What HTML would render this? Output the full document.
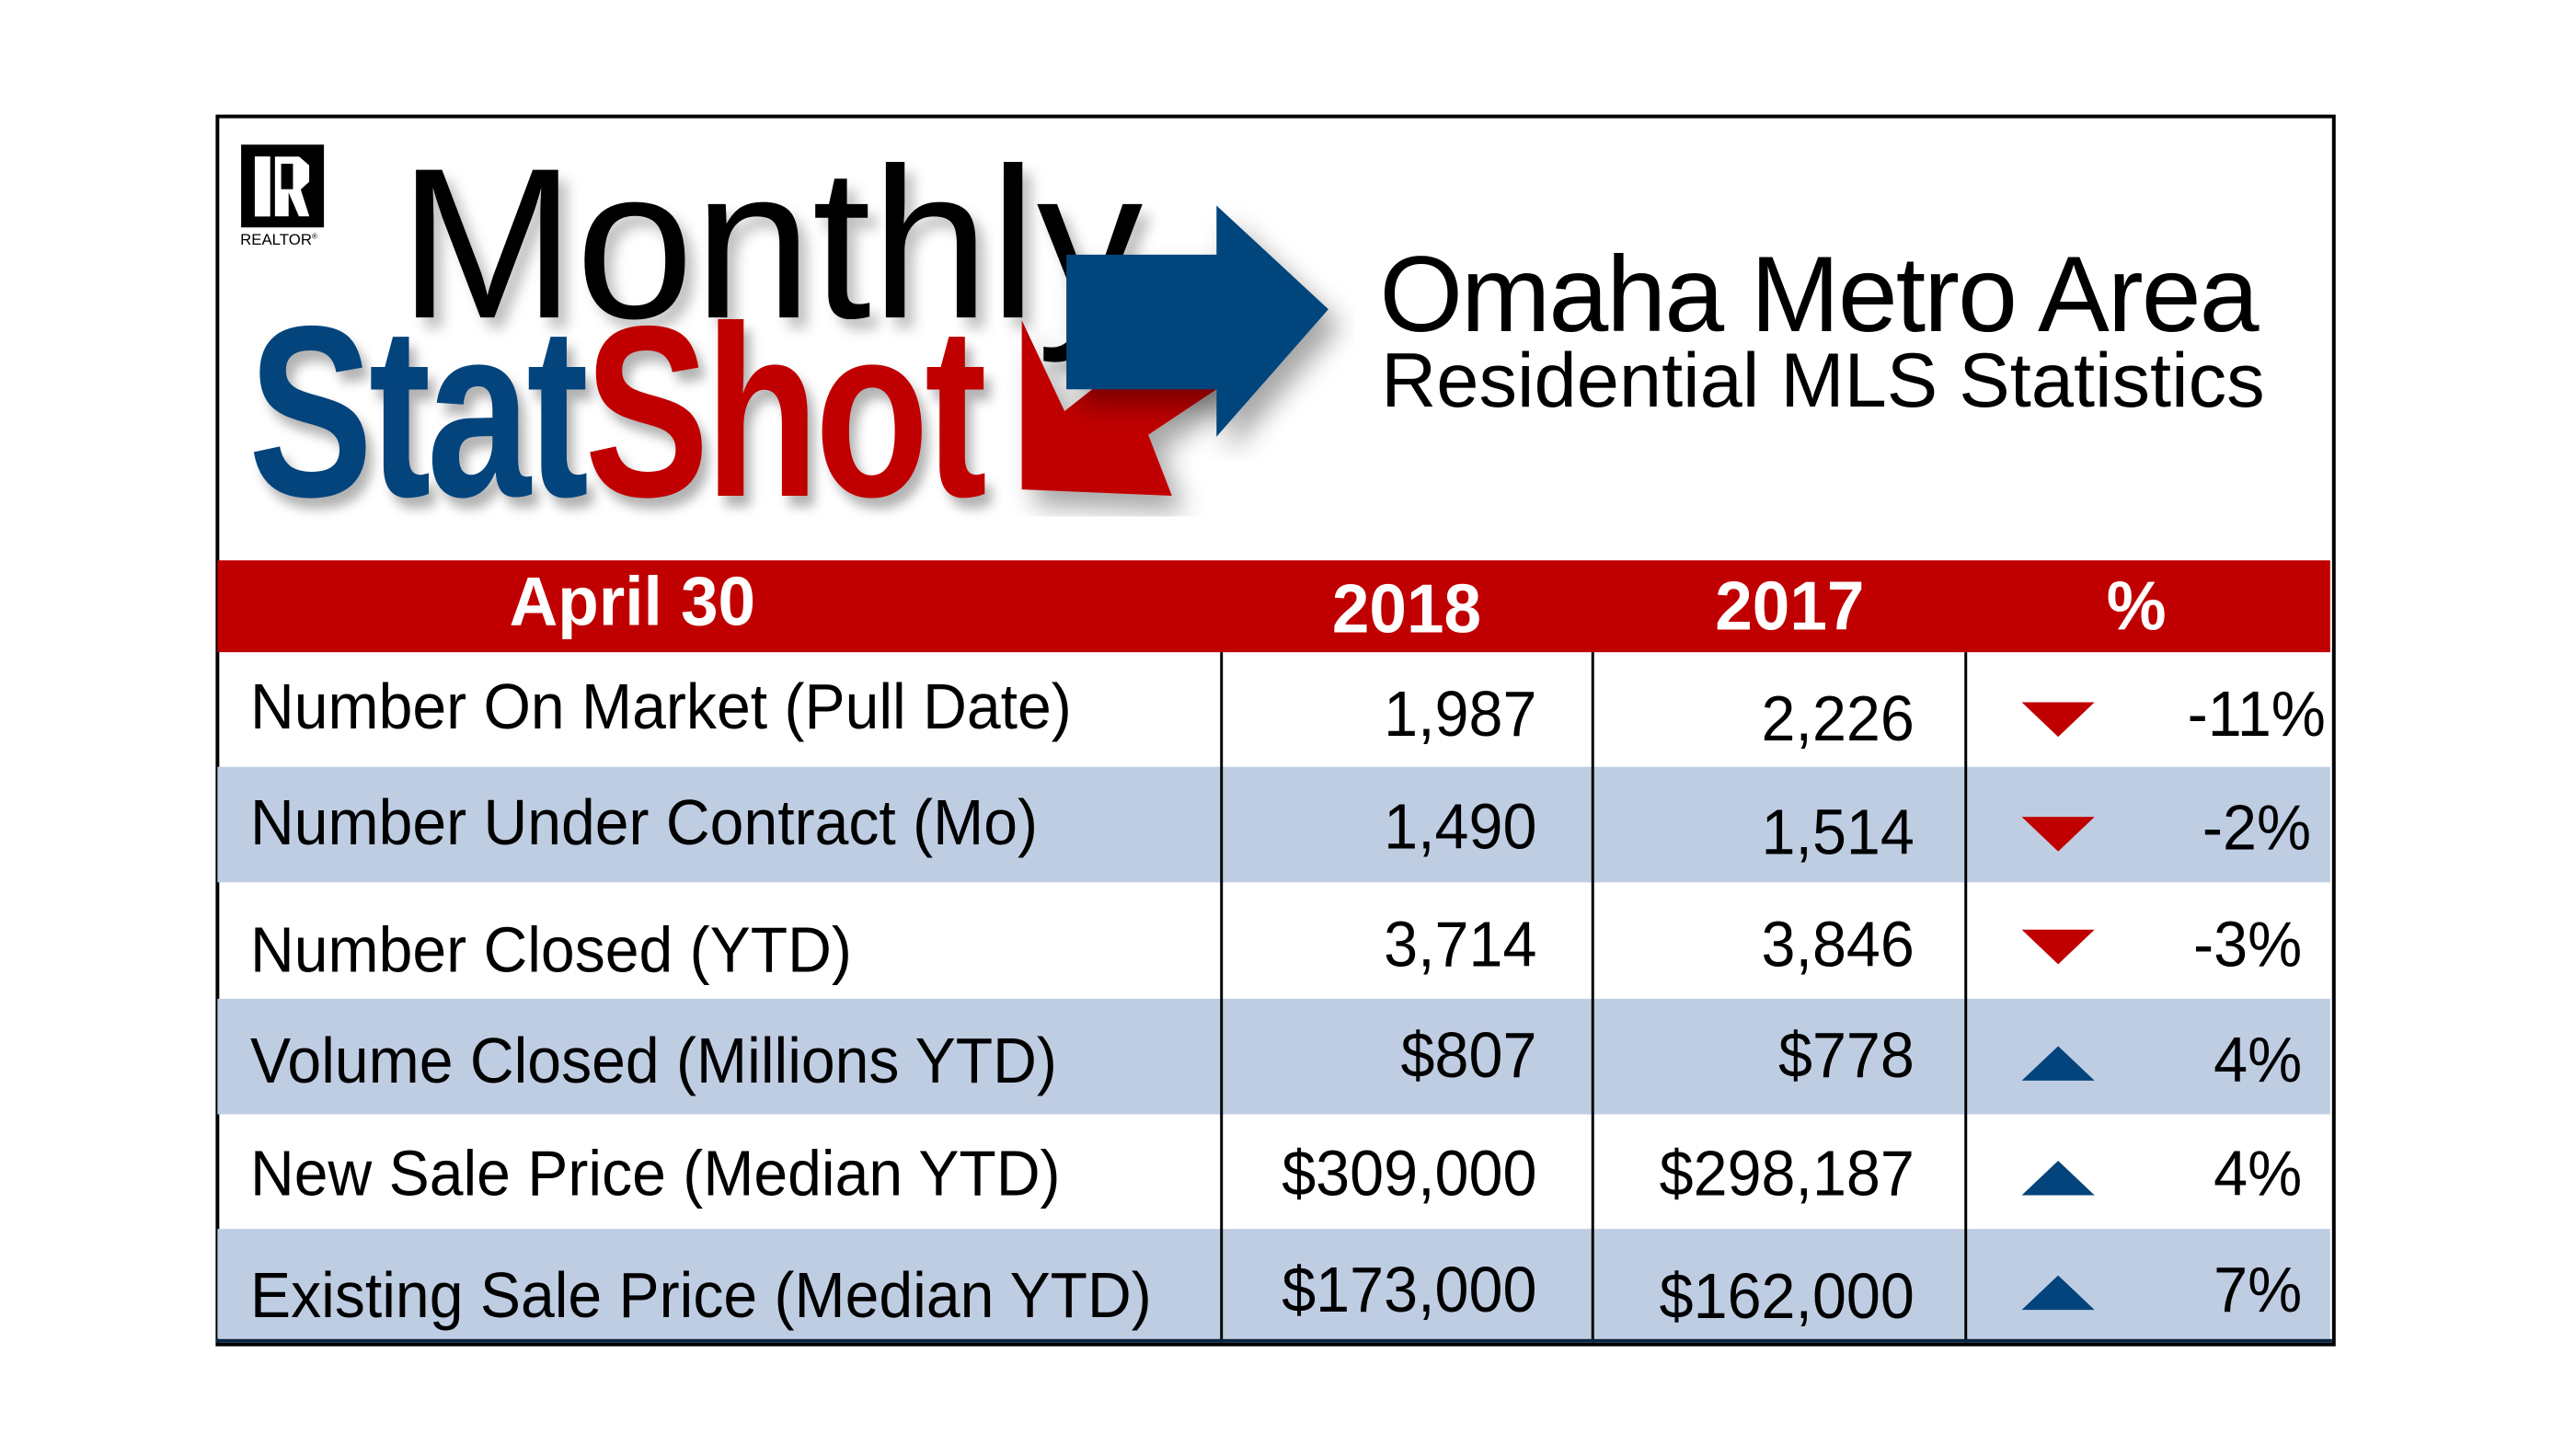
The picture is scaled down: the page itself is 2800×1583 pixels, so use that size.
<!DOCTYPE html>
<html><head><meta charset="utf-8"><style>
body{margin:0;width:2800px;height:1583px;background:#fff;position:relative;overflow:hidden;font-family:"Liberation Sans",sans-serif}
#w{position:absolute;left:0;top:0;width:2800px;height:1583px;transform:scale(0.989);transform-origin:0 0}
.a{position:absolute;white-space:nowrap}
.row{position:absolute;left:239px;width:2322px;height:127px}
.lbl{position:absolute;left:275px;font-size:70px;transform:scaleX(0.955);transform-origin:left center;color:#000;white-space:nowrap}
.num{position:absolute;font-size:70px;transform:scaleX(0.96);color:#000;text-align:right}
.h{position:absolute;color:#fff;font-weight:bold;font-size:76px;transform:scaleX(0.97);text-align:center}
</style></head><body><div id="w">
<div class="a" style="left:237px;top:126px;width:2322px;height:1346px;border:4px solid #000"></div>
<div class="a" style="left:265px;top:159px;width:91px;height:91px;background:#000"></div>
<div class="a" style="left:280px;top:172px;width:17px;height:66px;background:#fff"></div>
<div class="a" style="left:302px;top:172px;width:38px;height:66px;background:#fff;clip-path:polygon(0 0,70% 0,100% 15%,100% 42%,75% 55%,100% 100%,70% 100%,40% 60%,40% 100%,0 100%)"></div>
<div class="a" style="left:309px;top:180px;width:13px;height:28px;background:#000"></div>
<div class="a" style="left:264px;top:254px;font-size:17px">REALTOR<sup style="font-size:8px">®</sup></div>
<div class="a" style="left:438px;top:150px;font-size:236px;line-height:236px;text-shadow:10px 12px 14px rgba(0,0,0,.25);transform:scaleX(0.99);transform-origin:left">Monthly</div>
<svg class="a" style="left:0;top:0" width="2800" height="700">
<defs><filter id="s"><feDropShadow dx="14" dy="18" stdDeviation="14" flood-opacity="0.35"/></filter></defs>
<polygon filter="url(#s)" points="1123,352 1170,452 1337,320 1337,428 1262,478 1288,545 1123,538" fill="#c00000"/>
<polygon filter="url(#s)" points="1172,280 1337,280 1337,226 1460,340 1337,480 1337,428 1172,428" fill="#04447c"/>
</svg>
<div class="a" style="left:273px;top:318px;font-size:268px;line-height:268px;font-weight:bold;letter-spacing:-6px;transform:scaleX(0.766);transform-origin:left;text-shadow:10px 12px 14px rgba(0,0,0,.3)"><span style="color:#04447c">Stat</span><span style="color:#c00000">Shot</span></div>
<div class="a" style="left:1516px;top:254px;font-size:118px;line-height:140px;letter-spacing:-2px">Omaha Metro Area</div>
<div class="a" style="left:1518px;top:368px;font-size:84px;line-height:100px">Residential MLS Statistics</div>
<div class="a" style="left:239px;top:616px;width:2322px;height:101px;background:#c00000"></div>
<div class="h" style="left:495px;width:400px;top:617px;line-height:90px">April 30</div>
<div class="h" style="left:1346px;width:400px;top:625px;line-height:90px">2018</div>
<div class="h" style="left:1767px;width:400px;top:622px;line-height:90px">2017</div>
<div class="h" style="left:2148px;width:400px;top:622px;line-height:90px">%</div>
<div class="row" style="top:843px;background:#bfcde3"></div>
<div class="row" style="top:1098px;background:#bfcde3"></div>
<div class="row" style="top:1351px;height:121px;background:#bfcde3"></div>
<div class="a" style="left:1341px;top:717px;width:3px;height:759px;background:#000"></div>
<div class="a" style="left:1749px;top:717px;width:3px;height:759px;background:#000"></div>
<div class="a" style="left:2159px;top:717px;width:3px;height:759px;background:#000"></div>
<div class="a" style="left:237px;top:1472px;width:2326px;height:4px;background:#0a2540"></div>

<div class="lbl" style="top:737px">Number On Market (Pull Date)</div>
<div class="lbl" style="top:864px">Number Under Contract (Mo)</div>
<div class="lbl" style="top:1004px">Number Closed (YTD)</div>
<div class="lbl" style="top:1126px">Volume Closed (Millions YTD)</div>
<div class="lbl" style="top:1250px">New Sale Price (Median YTD)</div>
<div class="lbl" style="top:1384px">Existing Sale Price (Median YTD)</div>

<div class="num" style="left:1289px;width:400px;top:745px;transform-origin:right">1,987</div>
<div class="num" style="left:1289px;width:400px;top:869px;transform-origin:right">1,490</div>
<div class="num" style="left:1289px;width:400px;top:998px;transform-origin:right">3,714</div>
<div class="num" style="left:1289px;width:400px;top:1120px;transform-origin:right">$807</div>
<div class="num" style="left:1289px;width:400px;top:1250px;transform-origin:right">$309,000</div>
<div class="num" style="left:1289px;width:400px;top:1378px;transform-origin:right">$173,000</div>

<div class="num" style="left:1704px;width:400px;top:750px;transform-origin:right">2,226</div>
<div class="num" style="left:1704px;width:400px;top:875px;transform-origin:right">1,514</div>
<div class="num" style="left:1704px;width:400px;top:998px;transform-origin:right">3,846</div>
<div class="num" style="left:1704px;width:400px;top:1120px;transform-origin:right">$778</div>
<div class="num" style="left:1704px;width:400px;top:1250px;transform-origin:right">$298,187</div>
<div class="num" style="left:1704px;width:400px;top:1385px;transform-origin:right">$162,000</div>

<div class="num" style="left:2156px;width:400px;top:745px;transform-origin:right">-11%</div>
<div class="num" style="left:2140px;width:400px;top:870px;transform-origin:right">-2%</div>
<div class="num" style="left:2130px;width:400px;top:998px;transform-origin:right">-3%</div>
<div class="num" style="left:2130px;width:400px;top:1125px;transform-origin:right">4%</div>
<div class="num" style="left:2130px;width:400px;top:1250px;transform-origin:right">4%</div>
<div class="num" style="left:2130px;width:400px;top:1378px;transform-origin:right">7%</div>

<svg class="a" style="left:0;top:0" width="2800" height="1583">
<polygon points="2222,772 2302,772 2262,810" fill="#c00000"/>
<polygon points="2222,898 2302,898 2262,936" fill="#c00000"/>
<polygon points="2222,1022 2302,1022 2262,1060" fill="#c00000"/>
<polygon points="2222,1188 2302,1188 2262,1150" fill="#04447c"/>
<polygon points="2222,1314 2302,1314 2262,1276" fill="#04447c"/>
<polygon points="2222,1440 2302,1440 2262,1402" fill="#04447c"/>
</svg>
</div></body></html>
